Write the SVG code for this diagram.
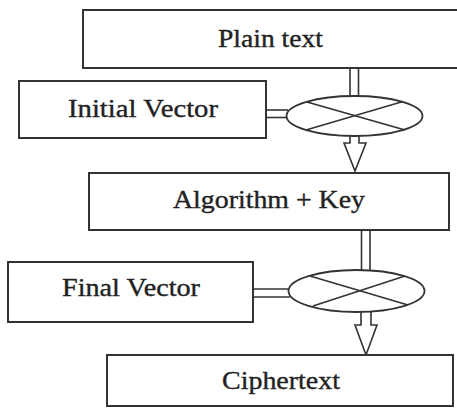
<svg xmlns="http://www.w3.org/2000/svg" width="457" height="408" viewBox="0 0 457 408">
<style>
.box{fill:#fff;stroke:#333;stroke-width:2}
.ln{fill:none;stroke:#333;stroke-width:1.6}
.xor{fill:#fff;stroke:#333;stroke-width:1.8}
.t{font-family:"Liberation Serif","Times New Roman",serif;font-size:25px;fill:#222;stroke:#222;stroke-width:0.35;text-anchor:middle}
</style>
<rect width="457" height="408" fill="#fff"/>
<g id="connectors">
  <line class="ln" x1="350" y1="68" x2="350" y2="97"/>
  <line class="ln" x1="358.5" y1="68" x2="358.5" y2="97"/>
  <line class="ln" x1="266" y1="110" x2="288" y2="110"/>
  <line class="ln" x1="266" y1="117.5" x2="288" y2="117.5"/>
  <path class="ln" d="M350 136 V143 H344 L355 171 L366 143 H359 V136"/>
  <line class="ln" x1="361.5" y1="230" x2="361.5" y2="271"/>
  <line class="ln" x1="370" y1="230" x2="370" y2="271"/>
  <line class="ln" x1="253" y1="289" x2="290" y2="289"/>
  <line class="ln" x1="253" y1="297" x2="290" y2="297"/>
  <path class="ln" d="M361 312 V325 H355 L366 355 L377 325 H371 V312"/>
</g>
<g id="xor1">
  <ellipse class="xor" cx="354.5" cy="116" rx="68" ry="20"/>
  <line class="ln" x1="307" y1="102" x2="405" y2="130"/>
  <line class="ln" x1="403" y1="101.5" x2="306" y2="130"/>
</g>
<g id="xor2">
  <ellipse class="xor" cx="356.5" cy="291" rx="68" ry="21"/>
  <line class="ln" x1="310" y1="276" x2="408" y2="305"/>
  <line class="ln" x1="405" y1="276" x2="313" y2="306"/>
</g>
<g id="plain">
  <rect class="box" x="83" y="10" width="380" height="58"/>
  <text class="t" x="270.5" y="47" textLength="105" lengthAdjust="spacingAndGlyphs">Plain text</text>
</g>
<g id="iv">
  <rect class="box" x="19" y="81" width="247" height="57"/>
  <text class="t" x="143" y="117" textLength="150" lengthAdjust="spacingAndGlyphs">Initial Vector</text>
</g>
<g id="alg">
  <rect class="box" x="89" y="173" width="360" height="57"/>
  <text class="t" x="269" y="208" textLength="192" lengthAdjust="spacingAndGlyphs">Algorithm + Key</text>
</g>
<g id="fv">
  <rect class="box" x="8" y="262" width="245" height="60"/>
  <text class="t" x="131" y="296" textLength="138" lengthAdjust="spacingAndGlyphs">Final Vector</text>
</g>
<g id="cipher">
  <rect class="box" x="107" y="355" width="346" height="51"/>
  <text class="t" x="281" y="389" textLength="118" lengthAdjust="spacingAndGlyphs">Ciphertext</text>
</g>
</svg>
